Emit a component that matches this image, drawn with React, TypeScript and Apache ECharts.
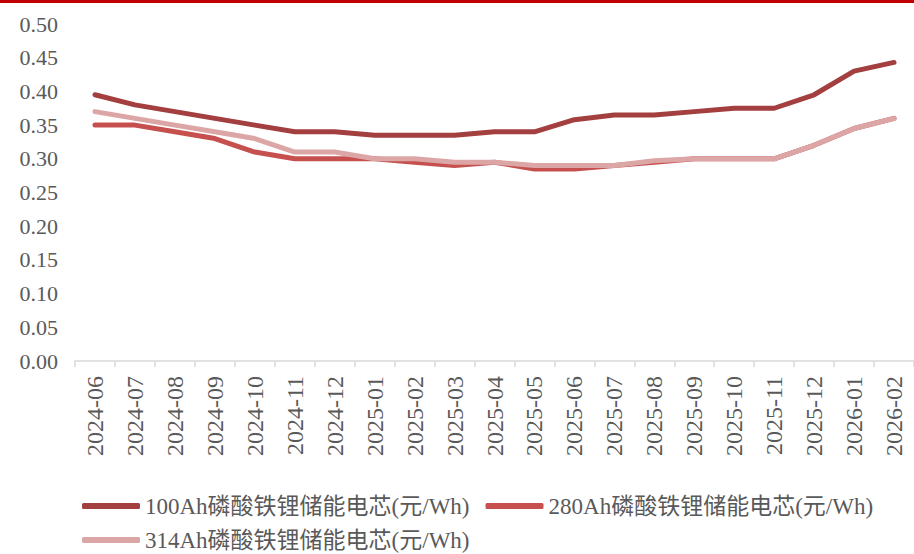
import React, { useEffect, useRef } from "react";
import * as echarts from "echarts";

const categories = [
  "2024-06", "2024-07", "2024-08", "2024-09", "2024-10", "2024-11", "2024-12",
  "2025-01", "2025-02", "2025-03", "2025-04", "2025-05", "2025-06", "2025-07",
  "2025-08", "2025-09", "2025-10", "2025-11", "2025-12", "2026-01", "2026-02",
];

const seriesNames = [
  "100Ah磷酸铁锂储能电芯(元/Wh)",
  "280Ah磷酸铁锂储能电芯(元/Wh)",
  "314Ah磷酸铁锂储能电芯(元/Wh)",
];

const s100 = [0.395, 0.38, 0.37, 0.36, 0.35, 0.34, 0.34, 0.335, 0.335, 0.335, 0.34, 0.34, 0.358, 0.365, 0.365, 0.37, 0.375, 0.375, 0.395, 0.43, 0.443];
const s280 = [0.35, 0.35, 0.34, 0.33, 0.31, 0.30, 0.30, 0.30, 0.295, 0.29, 0.295, 0.285, 0.285, 0.29, 0.295, 0.30, 0.30, 0.30, 0.32, 0.345, 0.36];
const s314 = [0.37, 0.36, 0.35, 0.34, 0.33, 0.31, 0.31, 0.30, 0.30, 0.295, 0.295, 0.29, 0.29, 0.29, 0.297, 0.30, 0.30, 0.30, 0.32, 0.345, 0.36];

const colors = ["#A33F3F", "#C5504E", "#DCA6A6"];
const FONT = "'Liberation Serif', 'Noto Sans CJK SC', serif";

export default function App() {
  const ref = useRef<HTMLDivElement>(null);
  useEffect(() => {
    if (!ref.current) return;
    const chart = echarts.init(ref.current, null, { renderer: "svg" });
    const mk = (i: number, data: number[]) => ({
      name: seriesNames[i],
      type: "line",
      data,
      symbol: "none",
      lineStyle: { color: colors[i], width: 5, cap: "round", join: "round" },
      itemStyle: { color: colors[i] },
      z: 2 + i,
    });
    const legendText = { fontFamily: FONT, fontSize: 23, lineHeight: 24, color: "#595959" };
    chart.setOption({
      animation: false,
      backgroundColor: "#ffffff",
      graphic: [
        { type: "rect", left: 0, top: 0, shape: { width: 914, height: 3 }, style: { fill: "#C00000" } },
      ],
      grid: { left: 75, right: -7, top: 24, bottom: 193, containLabel: false },
      legend: [
        {
          data: [seriesNames[0], seriesNames[1]],
          left: 82,
          top: 494,
          padding: 0,
          itemWidth: 58,
          itemHeight: 6,
          itemGap: 16,
          icon: "roundRect",
          textStyle: legendText,
        },
        {
          data: [seriesNames[2]],
          left: 82,
          top: 528,
          padding: 0,
          itemWidth: 58,
          itemHeight: 6,
          icon: "roundRect",
          textStyle: legendText,
        },
      ],
      xAxis: {
        type: "category",
        data: categories,
        boundaryGap: true,
        axisLine: { lineStyle: { color: "#D9D9D9", width: 1.5 } },
        axisTick: { show: true, length: 6, lineStyle: { color: "#D9D9D9", width: 1.5 } },
        axisLabel: {
          rotate: 90,
          interval: 0,
          margin: 15,
          fontFamily: FONT,
          fontSize: 24,
          color: "#595959",
        },
      },
      yAxis: {
        type: "value",
        min: 0,
        max: 0.5,
        interval: 0.05,
        axisLine: { show: false },
        axisTick: { show: false },
        splitLine: { show: false },
        axisLabel: {
          margin: 17,
          fontFamily: FONT,
          fontSize: 22,
          color: "#595959",
          formatter: (v: number) => v.toFixed(2),
        },
      },
      series: [mk(0, s100), mk(1, s280), mk(2, s314)],
    });
    return () => chart.dispose();
  }, []);
  return (
    <div
      ref={ref}
      style={{ position: "fixed", left: 0, top: 0, width: 914, height: 554 }}
    />
  );
}
